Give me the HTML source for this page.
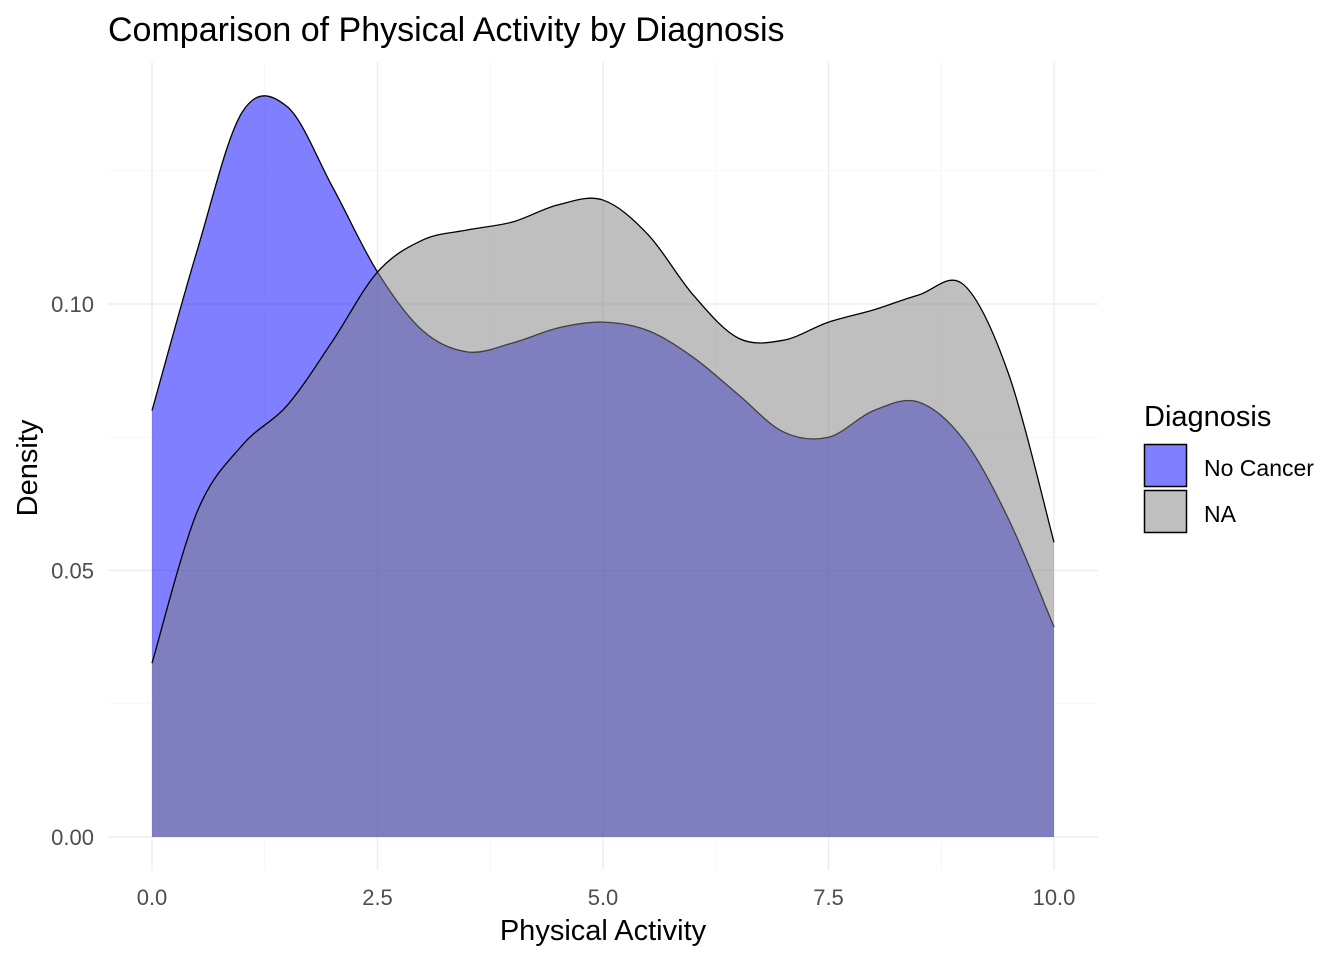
<!DOCTYPE html>
<html><head><meta charset="utf-8"><style>
body{margin:0;background:#fff;font-family:"Liberation Sans",Arial,sans-serif}
</style></head><body>
<svg id="chart" width="1344" height="960" xmlns="http://www.w3.org/2000/svg" font-family="Liberation Sans, Arial, sans-serif">
<rect width="1344" height="960" fill="#fff"/>
<g id="grid"></g>
<g id="series"></g>
<g id="axes"></g>
<text x="108" y="41" font-size="34" fill="#000">Comparison of Physical Activity by Diagnosis</text>
<text x="603" y="940" font-size="29" text-anchor="middle" fill="#000">Physical Activity</text>
<text transform="translate(37,468) rotate(-90)" font-size="29" text-anchor="middle" fill="#000">Density</text>
<g>
<text x="1144" y="426" font-size="29" fill="#000">Diagnosis</text>
<g>
<rect x="1144.5" y="444.5" width="42" height="42" fill="#8080FF" stroke="#000" stroke-width="1.5"/>
<text x="1204" y="476" font-size="23" fill="#000">No Cancer</text></g>
<g>
<rect x="1144.5" y="490.5" width="42" height="42" fill="#BFBFBF" stroke="#000" stroke-width="1.5"/>
<text x="1204" y="522" font-size="23" fill="#000">NA</text></g>
</g>
</svg>
<script>
const xs = [0,0.5,1,1.5,2,2.5,3,3.5,4,4.5,5,5.5,6,6.5,7,7.5,8,8.5,9,9.5,10];
const noCancer = [0.080,0.110,0.136,0.137,0.122,0.106,0.095,0.091,0.0927,0.0955,0.0966,0.095,0.090,0.083,0.076,0.075,0.080,0.0816,0.0745,0.0595,0.0394];
const naSeries = [0.0326,0.061,0.0735,0.081,0.093,0.106,0.112,0.1139,0.1154,0.1186,0.1195,0.113,0.1017,0.0936,0.0932,0.0966,0.0989,0.1017,0.1036,0.0867,0.0553];
const xTicks = [0,2.5,5,7.5,10];
const xTickLabels = ["0.0","2.5","5.0","7.5","10.0"];
const yTicks = [0,0.05,0.10];
const yTickLabels = ["0.00","0.05","0.10"];
const NS="http://www.w3.org/2000/svg";
const X=v=>152+v*90.2, Y=v=>837-v*5330;
const L=108,R=1098,T=62,B=870;
const grid=document.getElementById('grid'), axes=document.getElementById('axes'), ser=document.getElementById('series');
function mk(tag,attrs,parent){const e=document.createElementNS(NS,tag);for(const k in attrs)e.setAttribute(k,attrs[k]);parent.appendChild(e);return e;}
for(let i=0;i<xTicks.length;i++){
 const l=mk('line',{x1:X(xTicks[i]),x2:X(xTicks[i]),y1:T,y2:B,stroke:'#EBEBEB','stroke-width':1.3},grid);
 
 
 if(i<xTicks.length-1){const m=(xTicks[i]+xTicks[i+1])/2;
  const l2=mk('line',{x1:X(m),x2:X(m),y1:T,y2:B,stroke:'#F3F3F3','stroke-width':0.8},grid);
  
  }
 const t=mk('text',{x:X(xTicks[i]),y:905,'font-size':22,'text-anchor':'middle',fill:'#4D4D4D'},axes);
 
 
 t.textContent=xTickLabels[i];
}
const yMinor=[0.025,0.075,0.125];
for(const m of yMinor){const l=mk('line',{x1:L,x2:R,y1:Y(m),y2:Y(m),stroke:'#F3F3F3','stroke-width':0.8},grid);
 
 }
for(let i=0;i<yTicks.length;i++){
 const l=mk('line',{x1:L,x2:R,y1:Y(yTicks[i]),y2:Y(yTicks[i]),stroke:'#EBEBEB','stroke-width':1.3},grid);
 
 
 const t=mk('text',{x:94,y:Y(yTicks[i])+8,'font-size':22,'text-anchor':'end',fill:'#4D4D4D'},axes);
 
 
 t.textContent=yTickLabels[i];
}
function curve(vals){
 const p=xs.map((x,i)=>[X(x),Y(vals[i])]);
 let d=`M${p[0][0]},${p[0][1]}`;
 for(let i=0;i<p.length-1;i++){
  const p0=p[Math.max(0,i-1)],p1=p[i],p2=p[i+1],p3=p[Math.min(p.length-1,i+2)];
  const c1=[p1[0]+(p2[0]-p0[0])/6,p1[1]+(p2[1]-p0[1])/6];
  const c2=[p2[0]-(p3[0]-p1[0])/6,p2[1]-(p3[1]-p1[1])/6];
  d+=` C${c1[0]},${c1[1]} ${c2[0]},${c2[1]} ${p2[0]},${p2[1]}`;
 }
 return d;
}
function draw(vals,fill,name){
 const c=curve(vals);
 const a=mk('path',{d:`M${X(xs[0])},${Y(0)} L`+c.slice(1)+` L${X(xs[xs.length-1])},${Y(0)} Z`,fill:fill,'fill-opacity':0.5,stroke:'none'},ser);
 
 
 const ln=mk('path',{d:c,fill:'none',stroke:'#000','stroke-width':1.3},ser);
 
 
}
draw(noCancer,'#0000FF','no-cancer');
draw(naSeries,'#7F7F7F','na');
</script>
</body></html>
